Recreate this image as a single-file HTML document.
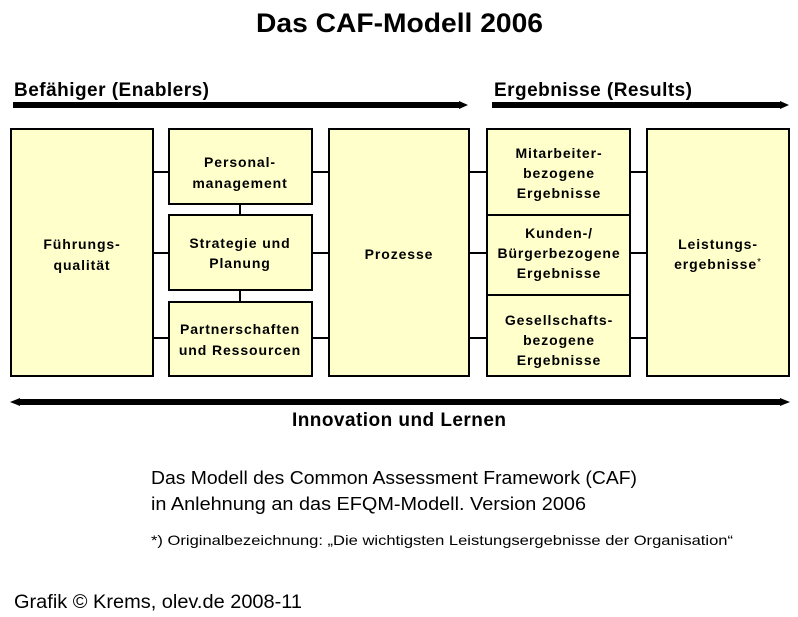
<!DOCTYPE html>
<html><head><meta charset="utf-8"><style>
html,body{margin:0;padding:0;background:#fff;}
svg{display:block;}
text{font-family:"Liberation Sans",Arial,sans-serif;fill:#000;}
.b{font-weight:bold;}
.bx{font-size:14px;font-weight:bold;text-anchor:middle;letter-spacing:0.9px;}
</style></head><body>
<svg width="798" height="617" viewBox="0 0 798 617" xmlns="http://www.w3.org/2000/svg">
<text x="256" y="32" class="b" font-size="27" textLength="287" lengthAdjust="spacingAndGlyphs">Das CAF-Modell 2006</text>
<text x="14" y="96" class="b" font-size="19" textLength="195" lengthAdjust="spacing">Befähiger (Enablers)</text>
<text x="494" y="96" class="b" font-size="19" textLength="198" lengthAdjust="spacing">Ergebnisse (Results)</text>
<rect x="13" y="102" width="448" height="6" fill="#000"/>
<polygon points="459,101 468,105 459,109" fill="#000"/>
<rect x="492" y="102" width="290" height="6" fill="#000"/>
<polygon points="780,101 789,105 780,109" fill="#000"/>
<g stroke="#000" stroke-width="2">
<line x1="153" y1="172" x2="169" y2="172"/><line x1="153" y1="253" x2="169" y2="253"/><line x1="153" y1="338" x2="169" y2="338"/>
<line x1="312" y1="172" x2="329" y2="172"/><line x1="312" y1="253" x2="329" y2="253"/><line x1="312" y1="338" x2="329" y2="338"/>
<line x1="469" y1="172" x2="487" y2="172"/><line x1="469" y1="253" x2="487" y2="253"/><line x1="469" y1="338" x2="487" y2="338"/>
<line x1="630" y1="172" x2="647" y2="172"/><line x1="630" y1="253" x2="647" y2="253"/><line x1="630" y1="338" x2="647" y2="338"/>
<line x1="240" y1="204" x2="240" y2="215"/><line x1="240" y1="290" x2="240" y2="302"/>
</g>
<g fill="#ffffcc" stroke="#000" stroke-width="2">
<rect x="11" y="129" width="142" height="247"/>
<rect x="169" y="129" width="143" height="75"/>
<rect x="169" y="215" width="143" height="75"/>
<rect x="169" y="302" width="143" height="74"/>
<rect x="329" y="129" width="140" height="247"/>
<rect x="487" y="129" width="143" height="86"/>
<rect x="487" y="215" width="143" height="80"/>
<rect x="487" y="295" width="143" height="81"/>
<rect x="647" y="129" width="142" height="247"/>
</g>
<text class="bx" x="82" y="249">Führungs-</text><text class="bx" x="82" y="270">qualität</text>
<text class="bx" x="240" y="167">Personal-</text><text class="bx" x="240" y="188">management</text>
<text class="bx" x="240" y="248">Strategie und</text><text class="bx" x="240" y="268">Planung</text>
<text class="bx" x="240" y="334">Partnerschaften</text><text class="bx" x="240" y="355">und Ressourcen</text>
<text class="bx" x="399" y="259">Prozesse</text>
<text class="bx" x="559" y="158">Mitarbeiter-</text><text class="bx" x="559" y="178">bezogene</text><text class="bx" x="559" y="198">Ergebnisse</text>
<text class="bx" x="559" y="238">Kunden-/</text><text class="bx" x="559" y="258">Bürgerbezogene</text><text class="bx" x="559" y="278">Ergebnisse</text>
<text class="bx" x="559" y="325">Gesellschafts-</text><text class="bx" x="559" y="345">bezogene</text><text class="bx" x="559" y="365">Ergebnisse</text>
<text class="bx" x="718" y="249">Leistungs-</text><text class="bx" x="718" y="269">ergebnisse<tspan font-weight="normal" font-size="10" dy="-4">*</tspan></text>
<rect x="18" y="399" width="764" height="6" fill="#000"/>
<polygon points="20,398 10,402 20,406" fill="#000"/>
<polygon points="780,398 790,402 780,406" fill="#000"/>
<text x="292" y="426" class="b" font-size="19" textLength="214" lengthAdjust="spacing">Innovation und Lernen</text>
<text x="151" y="484" font-size="18.5" textLength="486" lengthAdjust="spacingAndGlyphs">Das Modell des Common Assessment Framework (CAF)</text>
<text x="151" y="510" font-size="18.5" textLength="435" lengthAdjust="spacingAndGlyphs">in Anlehnung an das EFQM-Modell. Version 2006</text>
<text x="151" y="545" font-size="14" textLength="582" lengthAdjust="spacingAndGlyphs">*) Originalbezeichnung: „Die wichtigsten Leistungsergebnisse der Organisation“</text>
<text x="14" y="608" font-size="19" textLength="288" lengthAdjust="spacingAndGlyphs">Grafik © Krems, olev.de 2008-11</text>
</svg>
</body></html>
